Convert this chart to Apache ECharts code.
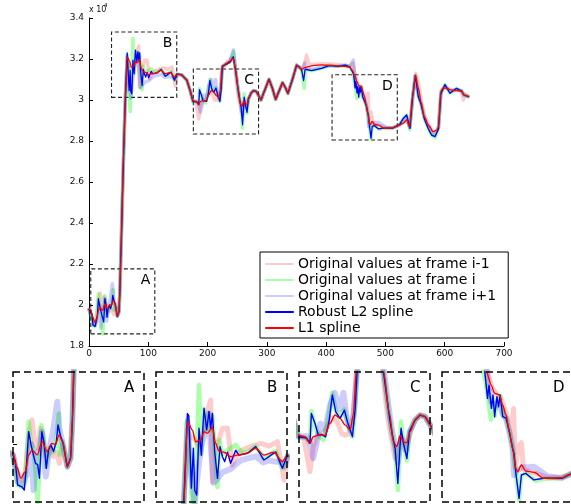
<!DOCTYPE html>
<html><head><meta charset="utf-8">
<script src="https://cdn.jsdelivr.net/npm/echarts@6/dist/echarts.min.js"></script>
<style>html,body{margin:0;padding:0;background:#fff}#c{width:571px;height:504px}</style>
</head><body><div id="c"></div>
<script>
// ---------------- DATA ----------------
const xTickValues = [0, 100, 200, 300, 400, 500, 600, 700];
const yTickValues = [18000, 20000, 22000, 24000, 26000, 28000, 30000, 32000, 34000];
const seriesNames = ['Original values at frame i-1', 'Original values at frame i', 'Original values at frame i+1', 'Robust L2 spline', 'L1 spline'];

const frameIm1 = [[0,19800],[3,19760],[6.8,19300],[10.4,19100],[13,19300],[15.9,20200],[18.7,20590],[21,20000],[23.4,19900],[25.6,20390],[28.7,19900],[31,19700],[34,19900],[36.4,19700],[38.7,19800],[41.3,19530],[44,20000],[47.8,19450],[50.5,19660],[52,20600],[53.5,22200],[58.5,27500],[61.3,30100],[64.4,31900],[67,31700],[70,31700],[74,31500],[78,31900],[80.6,32300],[83.9,32630],[85.3,30620],[88,31400],[93.8,31940],[98,31940],[102,31040],[106,31300],[110,31400],[118,31500],[125.9,31570],[133,31500],[140,31610],[145.6,30670],[148.3,31200],[156,31230],[164.8,30980],[170.3,30490],[175.4,29950],[180,29900],[185.2,29080],[188,29700],[192,30000],[196,30000],[200,30200],[204,30400],[208,30300],[212,30000],[214.7,29970],[218,30000],[221,30300],[224.3,31500],[232,31800],[240,32050],[245,31900],[248,31000],[251,30300],[256.7,29400],[262,29900],[266,29700],[270,30100],[273.5,30340],[277.7,30460],[281.9,30420],[286.1,30220],[290,30000],[296,30450],[303.6,31010],[309,30600],[314.9,30030],[320,30400],[326.4,30845],[331,30620],[335.5,30325],[342,30900],[350.3,31700],[354,31620],[358.5,31490],[363,31700],[367,32190],[371,31760],[380,31740],[392,31770],[405,31760],[420,31730],[432,31700],[440,31650],[445,31800],[448,31300],[452,30900],[456,30700],[460,30600],[464,30300],[467,30000],[469,29700],[471,30340],[472.5,28900],[475.5,29430],[477.7,29500],[479.5,28850],[484,28800],[490,28750],[500,28650],[512,28650],[518,28710],[524,28800],[530,28900],[535.8,29024],[541,28700],[546,30000],[551,31300],[556,30800],[561,29900],[566,29300],[573,28800],[581,28400],[587,28500],[590,28800],[594,30500],[600,30600],[612,30500],[628,30450],[631.5,30000],[635,30300],[639.7,30170]];

const frameI = [[0,19780],[3,19740],[6.8,19000],[10.4,18960],[13,19050],[15.9,20550],[17.9,20000],[20,19900],[23.4,18590],[26.5,20460],[28.7,20100],[30.4,19450],[33,19900],[36.4,19800],[38.7,20100],[40.8,20750],[41.5,19740],[44,20060],[47.8,19450],[50.5,19660],[52,20600],[53.5,22200],[58.5,27500],[61.3,30100],[64.4,32200],[67,30800],[69.5,29430],[71,30300],[74.1,33000],[76,31300],[78.3,32400],[80.6,31900],[82.5,32300],[84,31900],[85.4,32250],[87.3,31400],[89.6,30500],[91,31650],[93.8,31300],[98,31400],[104.9,31530],[110,31350],[114.7,31350],[121.7,31500],[128.7,31200],[138.5,31380],[144.1,30960],[148.3,31270],[156,31230],[164.8,30980],[170.3,30490],[175.4,29930],[182.5,29900],[185.2,29800],[186.4,30550],[189.4,30200],[192.2,29970],[196.7,29850],[200,30300],[204,31000],[206.9,30550],[210.5,30400],[214.1,30600],[217,30260],[220.9,29930],[223.2,30625],[225,31650],[232,31750],[238,31850],[244,32360],[247,31500],[252,30400],[253.9,30055],[256.7,29640],[259,28630],[261.7,30300],[263.7,29770],[266.6,29350],[268.7,30055],[273.5,30340],[277.7,30460],[281.9,30420],[286.1,30220],[290,30000],[296,30450],[303.6,31010],[309,30600],[314.9,30030],[320,30400],[326.4,30845],[331,30620],[335.5,30325],[342,30900],[350.3,31700],[354,31620],[358.5,31490],[363,30570],[365,31500],[375.6,31430],[392.4,31545],[405,31680],[420,31640],[432,31700],[440,31600],[444,31400],[447,31000],[449.4,30560],[451.7,30070],[453.5,30600],[455,30150],[457,30550],[459.6,30650],[461.8,30150],[464.6,30100],[467.4,29770],[470.2,29360],[473,28750],[475.7,28100],[477.7,28700],[481.4,28750],[490,28570],[496.8,28620],[512.2,28630],[517.8,28710],[524,28800],[530,29100],[535.8,29270],[541.4,28550],[546,30200],[550.5,31200],[555.4,30160],[560,29800],[565.5,29100],[572.3,28600],[577.8,28290],[583.6,28150],[589.5,28600],[593.5,30300],[600.4,30750],[608.9,30330],[620,30570],[628.4,30440],[632.5,30244],[639.7,30170]];

const frameIp1 = [[0,19780],[3,19740],[6.8,19100],[10.4,19000],[13,19200],[16.8,19330],[18,20000],[19.9,18880],[22,19700],[25,19900],[27,20300],[30,19210],[33,19900],[36,20300],[39.5,21036],[41,20400],[44,20000],[47.8,19450],[50.5,19660],[52,20600],[53.5,22200],[58.5,27500],[61.3,30100],[64.4,32100],[67,31000],[70.5,30100],[73,30800],[76,31500],[79,31800],[82.5,32300],[84,31500],[86.5,30600],[89.6,30700],[93.8,30860],[100.7,30940],[105,31050],[109.1,31150],[115,31200],[122,31250],[128,31100],[133,31150],[138.5,31120],[142.7,31120],[146,31000],[148.3,31250],[156,31230],[164.8,30980],[170.3,30490],[175.4,29930],[182,29950],[185,29800],[188,29410],[191,29800],[194,30250],[198,30100],[202,30700],[206,31000],[210,30600],[213.3,31000],[216,30400],[219,30100],[222,30500],[225,31650],[232,31800],[238,31900],[243.4,32440],[247,31600],[252,30500],[254,30100],[256.7,29700],[259,29300],[262,29900],[266,29600],[269,30055],[273.5,30340],[277.7,30460],[281.9,30420],[286.1,30220],[290,30000],[296,30450],[303.6,31010],[309,30600],[314.9,30030],[320,30400],[326.4,30845],[331,30620],[335.5,30325],[342,30900],[350.3,31700],[354,31620],[358.5,31490],[364,31800],[368,31550],[375.6,31500],[392.4,31600],[405,31680],[420,31640],[432,31680],[440,31650],[445.8,31950],[448,31300],[450,30800],[452,30500],[455,30400],[458,30500],[461.8,30200],[464.6,30100],[467.4,29770],[470.2,29360],[471.4,28710],[474,28800],[478,28900],[484,28900],[488.4,28910],[494,28800],[500,28680],[512,28640],[518,28710],[524,28800],[530,29000],[535.8,29200],[541,28650],[546,30200],[550.5,31200],[555.4,30300],[560,29850],[565.5,29150],[572.3,28700],[578,28350],[584,28300],[589.5,28650],[593.5,30350],[600.4,30700],[608.9,30400],[620,30520],[628.4,30440],[632.5,30244],[639.7,30170]];

const robustL2 = [[0,19780],[3,19740],[4.9,19570],[6.8,19005],[10.4,18960],[12.3,18880],[14.1,19490],[15.9,20305],[17.9,19980],[19.5,20020],[21.5,19530],[23.4,19500],[24.8,19170],[26.8,20305],[28.7,20020],[30.4,19410],[32.3,19860],[34.3,19980],[36.4,19820],[38.7,20060],[40.1,20470],[42,20220],[44,20060],[47.8,19450],[50.5,19660],[52,20600],[53.5,22200],[58.5,27500],[61.3,30100],[64.4,32300],[65.5,32250],[67.7,30470],[69.4,31450],[70.5,30420],[72.2,30300],[74.1,31940],[76.1,31280],[78.3,32430],[80.6,31900],[82.5,32350],[83.9,31940],[85.4,32300],[87.3,31360],[89.6,30710],[91.8,31490],[93.8,31240],[95.7,31120],[98,31350],[100.7,31080],[104.9,31400],[107.7,31280],[114.7,31325],[121.7,31490],[128.7,31160],[138.5,31360],[144.1,30960],[148.3,31270],[156,31230],[164.8,30980],[170.3,30490],[175.4,29930],[182.5,29900],[185.2,29770],[186.4,30500],[189.4,30260],[192.2,29970],[195,29990],[198.3,29930],[201.2,30300],[204,30950],[206.9,30540],[210.5,30380],[214.1,30580],[217,30260],[220.9,29930],[223.2,30625],[225,31650],[232,31750],[238,31850],[243.4,32110],[247,31500],[252,30400],[253.9,30055],[256.7,29640],[259,28790],[261.7,30140],[263.7,29770],[266.6,29400],[268.7,30055],[273.5,30340],[277.7,30460],[281.9,30420],[286.1,30220],[290,30000],[296,30450],[303.6,31010],[309,30600],[314.9,30030],[320,30400],[326.4,30845],[331,30620],[335.5,30325],[342,30900],[350.3,31700],[354,31620],[358.5,31490],[362,30950],[364.5,31500],[375.6,31430],[392.4,31545],[405,31680],[420,31640],[432,31700],[440,31600],[444,31400],[446.5,31235],[448.8,30585],[450.1,30910],[452.1,30340],[453.5,30666],[454.9,30136],[456.8,30625],[458.2,30380],[459.6,30666],[461.8,30136],[464.6,30100],[467.4,29770],[470.2,29360],[471.4,29240],[473,28750],[475.7,28140],[477.7,28710],[481.4,28750],[488.4,28590],[496.8,28630],[512.2,28630],[517.8,28710],[524,28800],[530,29100],[535.8,29270],[541.4,28620],[546,30200],[550.5,31200],[555.4,30160],[560,29800],[565.5,29100],[572.3,28600],[577.8,28290],[583.6,28210],[589.5,28600],[593.5,30300],[600.4,30750],[608.9,30330],[620,30570],[628.4,30440],[632.5,30244],[639.7,30170]];

const l1Spline = [[0,19790],[3,19780],[6,19450],[9.6,19170],[13,19330],[16,19740],[18.7,19860],[23,19740],[27,20060],[31,19820],[35,20020],[38,19990],[41,20220],[44,20060],[47.8,19450],[50.5,19660],[52,20600],[53.5,22200],[58.5,27500],[61.3,30100],[64.5,32100],[68.5,31900],[71.3,31610],[75.5,31650],[78.3,31855],[81.1,31815],[83.9,31900],[85.3,31980],[88,31570],[90.9,31380],[95,31350],[100.7,31240],[106.3,31280],[114.7,31325],[121.7,31450],[128.7,31280],[137,31350],[144,31120],[148.3,31270],[156,31230],[164.8,30980],[170.3,30490],[175.4,29970],[181,29930],[185.2,29770],[188,29930],[192.2,29970],[197.8,29970],[202,30260],[206.3,30460],[210.5,30380],[214.7,30220],[218.9,30100],[221.6,30460],[224.3,31600],[232,31790],[238,31900],[243.4,32030],[247,31500],[252,30500],[255.3,29810],[258.1,29690],[260.9,29960],[263.7,29800],[266.6,29790],[269.3,30060],[273.5,30340],[277.7,30460],[281.9,30420],[286.1,30220],[290,30000],[296,30450],[303.6,31010],[309,30600],[314.9,30030],[320,30400],[326.4,30845],[331,30620],[335.5,30325],[342,30900],[350.3,31700],[354,31620],[358.5,31490],[364,31580],[370,31630],[380,31690],[392,31710],[405,31690],[420,31660],[432,31640],[440,31600],[444,31450],[447.8,31235],[452,30910],[454.8,30710],[459,30666],[461.8,30420],[464.6,30180],[467.4,29770],[470.2,29360],[473,28870],[474.4,28790],[477.7,28955],[481.4,28810],[488.4,28776],[496.8,28630],[505.2,28630],[512.2,28645],[517.8,28710],[524,28790],[530,28860],[535.8,29024],[540.5,28700],[546,30200],[550.5,31200],[555.4,30600],[560,29900],[565.5,29190],[572.3,28780],[580.7,28453],[587,28540],[589.5,28700],[593.5,30450],[598,30600],[604,30560],[611.6,30488],[620,30460],[628.4,30440],[632.5,30244],[639.7,30170]];

const zoomLabels = ['A', 'B', 'C', 'D'];
const zoomXRanges = [[3, 111], [38, 148], [176, 286], [410, 520]];
const zoomYRanges = [[18590, 21760], [30130, 33320], [28340, 31510], [28050, 31230]];
const insetTickValues = [[20000], [], [], []];

// ---------------- STYLE / LAYOUT ----------------
const FONT = 'DejaVu Sans';
const seriesData = [frameIm1, frameI, frameIp1, robustL2, l1Spline];
const seriesColors = ['rgba(255,0,0,0.2)', 'rgba(0,255,0,0.33)', 'rgba(0,0,255,0.2)', '#0000ff', '#ff0000'];
const mainWidths = [3.5, 3.5, 3.5, 1.3, 1.3];
const insetWidths = [5, 4.5, 6, 1.4, 1.4];
const mainGrid = {left: 89, top: 18, width: 415, height: 328};
const insetLefts = [13, 156, 299, 442];
const insetTop = 372, insetW = 131, insetH = 130;

const grids = [mainGrid].concat(insetLefts.map(l => ({left: l, top: insetTop, width: insetW, height: insetH})));

const xAxes = [{
  gridIndex: 0, type: 'value', min: 0, max: 700, interval: 100,
  axisLine: {show: true, lineStyle: {color: '#000', width: 1}},
  axisTick: {show: true, inside: true, length: 4, lineStyle: {color: '#000'}},
  axisLabel: {fontSize: 9, color: '#111', margin: 3, fontFamily: FONT},
  splitLine: {show: false}
}];
const yAxes = [{
  gridIndex: 0, type: 'value', min: 18000, max: 34000, interval: 2000,
  axisLine: {show: true, lineStyle: {color: '#000', width: 1}},
  axisTick: {show: true, inside: true, length: 4, lineStyle: {color: '#000'}},
  axisLabel: {fontSize: 9, color: '#111', margin: 5, fontFamily: FONT,
    formatter: v => String(Math.round(v / 100) / 100)},
  splitLine: {show: false}
}];
zoomXRanges.forEach((xr, i) => {
  xAxes.push({gridIndex: i + 1, type: 'value', min: xr[0], max: xr[1], show: false, splitLine: {show: false}});
  const yr = zoomYRanges[i];
  yAxes.push({gridIndex: i + 1, type: 'value', min: yr[0], max: yr[1], show: true,
    axisLine: {show: false}, axisLabel: {show: false}, splitLine: {show: false},
    axisTick: {show: insetTickValues[i].length > 0, inside: true, length: 4,
      customValues: insetTickValues[i], lineStyle: {color: '#000', width: 1}}});
});

const series = [];
for (let g = 0; g < 5; g++) {
  seriesData.forEach((d, k) => {
    const s = {
      type: 'line', name: seriesNames[k], xAxisIndex: g, yAxisIndex: g, data: d,
      symbol: 'none', showSymbol: false, animation: false, silent: true,
      lineStyle: {color: seriesColors[k], width: g === 0 ? mainWidths[k] : insetWidths[k], join: 'round', cap: 'round'},
      itemStyle: {color: seriesColors[k]},
      smooth: k === 4 ? 0.3 : false, smoothMonotone: 'x', z: 2 + k
    };
    if (g === 0 && k === 4) {
      s.markArea = {
        silent: true,
        itemStyle: {color: 'rgba(0,0,0,0)', borderColor: '#222', borderWidth: 1.1, borderType: [4, 2.5]},
        label: {show: true, position: 'insideTopRight', distance: 5, fontSize: 14, color: '#000', fontFamily: FONT},
        data: zoomXRanges.map((xr, i) => [
          {name: zoomLabels[i], xAxis: xr[0], yAxis: zoomYRanges[i][0]},
          {xAxis: xr[1], yAxis: zoomYRanges[i][1]}
        ])
      };
    }
    series.push(s);
  });
}

const graphic = [
  {type: 'text', left: 89, top: 6, style: {text: 'x 10', fontSize: 8, fontFamily: FONT, fill: '#111'}},
  {type: 'text', left: 104, top: 3, style: {text: '4', fontSize: 5.5, fontFamily: FONT, fill: '#111'}}
];
insetLefts.forEach((l, i) => {
  graphic.push({type: 'rect', shape: {x: l, y: insetTop, width: insetW, height: insetH},
    style: {fill: 'rgba(0,0,0,0)', stroke: '#000', lineWidth: 1.5, lineDash: [7, 4]}, z: 100, silent: true});
  graphic.push({type: 'text', left: l + insetW - 20, top: insetTop + 9,
    style: {text: zoomLabels[i], fontSize: 15, fontFamily: FONT, fill: '#000'}, z: 100});
});

const chart = echarts.init(document.getElementById('c'), null, {renderer: 'canvas'});
chart.setOption({
  animation: false,
  backgroundColor: '#fff',
  grid: grids,
  xAxis: xAxes,
  yAxis: yAxes,
  legend: {
    data: seriesNames, orient: 'vertical', left: 260, top: 252,
    borderColor: '#000', borderWidth: 1, padding: [5, 12, 3, 5],
    itemWidth: 27, itemHeight: 12, itemGap: 2, itemTextGap: 3,
    selectedMode: false,
    itemStyle: {opacity: 0},
    lineStyle: {width: 2},
    textStyle: {fontSize: 14, fontFamily: FONT, color: '#000'}
  },
  graphic: graphic,
  series: series
});
</script></body></html>
